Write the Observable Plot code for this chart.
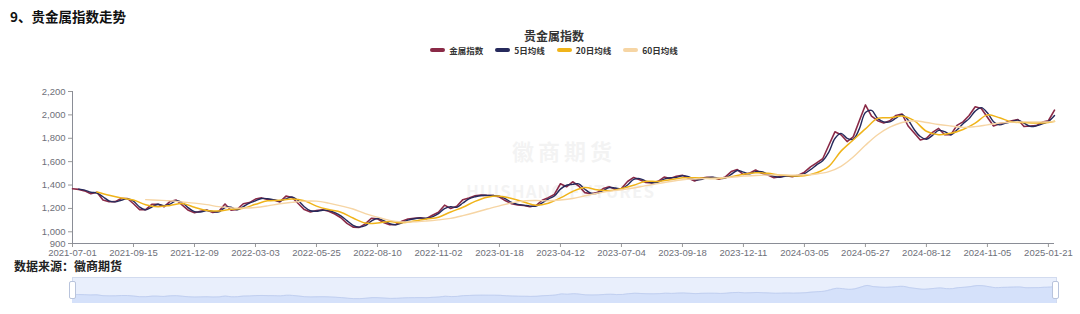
<!DOCTYPE html>
<html>
<head>
<meta charset="utf-8">
<script src="https://cdn.jsdelivr.net/npm/d3@7"></script>
<script src="https://cdn.jsdelivr.net/npm/@observablehq/plot@0.6"></script>
<style>
  html, body { margin: 0; padding: 0; background: #fff; }
  #root { position: relative; width: 1080px; height: 314px; overflow: hidden; background: #fff;
          font-family: "Noto Sans CJK SC", "Noto Sans", sans-serif; }
  .abs { position: absolute; white-space: nowrap; }
  #title { left: 10px; top: 6px; font-size: 13.5px; font-weight: 700; color: #111; }
  #ctitle { left: 0; width: 1108px; text-align: center; top: 27px; font-size: 12px; font-weight: 700; color: #333; }
  #legend { left: 0; width: 1108px; top: 44px; display: flex; justify-content: center; gap: 12px; font-size: 8.5px; color: #333; font-weight: 700; }
  #legend .item { display: flex; align-items: center; gap: 4px; }
  #legend .sw { width: 15px; height: 4px; border-radius: 2px; display: inline-block; }
  #source { left: 14px; top: 259px; font-size: 12px; line-height: 14px; font-weight: 700; color: #222; }
  #main { left: 0; top: 60px; }
  #slider { left: 0; top: 277px; }
  .wm { color: #000; opacity: 0.045; font-weight: 700; }
  .handle { position: absolute; width: 5px; height: 16px; background: #fff; border: 1px solid #b9c4dc; border-radius: 2px; }
</style>
</head>
<body>
<div id="root">
  <div id="title" class="abs">9、贵金属指数走势</div>
  <div id="ctitle" class="abs">贵金属指数</div>
  <div id="legend" class="abs"></div>
  <div class="abs wm" style="left:512px;top:134px;font-size:22px;letter-spacing:4px;">徽商期货</div>
  <div class="abs wm" style="left:466px;top:178px;font-size:17px;letter-spacing:1px;">HUISHANG FUTURES</div>
  <div id="main" class="abs"></div>
  <div id="source" class="abs">数据来源：徽商期货</div>
  <div id="slider" class="abs"></div>
</div>
<script>
// ---- tick labels (category axis, one label every 10 samples) ----
const dateLabels = ["2021-07-01","2021-09-15","2021-12-09","2022-03-03","2022-05-25","2022-08-10",
  "2022-11-02","2023-01-18","2023-04-12","2023-07-04","2023-09-18","2023-12-11","2024-03-05",
  "2024-05-27","2024-08-12","2024-11-05","2025-01-21"];
const yTicks = [900, 1000, 1200, 1400, 1600, 1800, 2000, 2200];

// ---- series names & colours ----
const seriesNames = ["金属指数", "5日均线", "20日均线", "60日均线"];
const seriesColors = ["#8a2a47", "#262a5c", "#f0b41a", "#f6d5a4"];

// ---- 金属指数 (sampled, one value per sample from 2021-07-01) ----
const indexValues = [1368,1363,1350,1326,1338,1272,1257,1258,1285,1285,
  1240,1190,1190,1235,1235,1214,1260,1272,1228,1184,
  1163,1176,1186,1165,1176,1238,1184,1192,1240,1250,
  1280,1290,1276,1272,1256,1305,1293,1242,1190,1170,
  1182,1188,1176,1152,1120,1072,1040,1038,1068,1116,
  1112,1080,1060,1062,1090,1110,1115,1120,1112,1142,
  1167,1228,1200,1218,1275,1290,1308,1314,1310,1310,
  1298,1265,1240,1230,1225,1215,1225,1270,1292,1320,
  1411,1385,1428,1392,1335,1325,1335,1370,1385,1365,
  1370,1430,1465,1445,1422,1418,1432,1468,1455,1475,
  1484,1458,1435,1458,1467,1465,1450,1468,1515,1532,
  1490,1502,1528,1500,1485,1462,1472,1480,1472,1484,
  1510,1555,1590,1625,1740,1855,1830,1772,1812,1950,
  2085,1990,1950,1930,1950,1995,2008,1905,1845,1785,
  1800,1850,1884,1830,1830,1910,1940,1995,2070,2055,
  1980,1905,1925,1935,1950,1960,1900,1905,1908,1938,
  1950,2040];

// ---- 5日均线 (starts at sample 1) ----
const ma5Start = 1;
const ma5Values = [1365,1356,1338,1332,1300,1264,1256,1270,1284,
  1262,1212,1188,1212,1236,1224,1236,1266,1250,1205,
  1172,1170,1182,1175,1170,1208,1210,1188,1215,1245,
  1265,1285,1283,1274,1264,1282,1298,1268,1215,1180,
  1176,1185,1182,1164,1136,1096,1056,1040,1052,1092,
  1114,1096,1070,1060,1076,1100,1112,1118,1116,1128,
  1155,1198,1214,1210,1246,1282,1300,1311,1312,1310,
  1304,1282,1252,1235,1228,1220,1220,1248,1280,1306,
  1365,1398,1406,1410,1364,1330,1330,1352,1378,1375,
  1368,1400,1448,1455,1434,1420,1425,1450,1462,1465,
  1480,1471,1446,1446,1462,1466,1458,1459,1492,1524,
  1511,1496,1515,1514,1492,1474,1467,1476,1476,1478,
  1497,1532,1572,1608,1682,1798,1842,1800,1792,1880,
  2020,2038,1970,1940,1940,1972,2002,1956,1875,1815,
  1792,1825,1867,1857,1830,1870,1925,1968,2032,2062,
  2018,1942,1915,1930,1942,1955,1930,1902,1906,1923,
  1944,1995];

// ---- 20日均线 (every 2nd sample from sample 4) ----
const ma20Start = 4;
const ma20Values = [1340,1312,1290,1272,1232,1215,1225,1242,1210,1182,
  1178,1192,1202,1235,1265,1270,1280,1265,1220,1190,
  1168,1118,1075,1075,1088,1077,1092,1110,1125,1170,
  1210,1260,1295,1305,1285,1255,1228,1245,1290,1345,
  1378,1360,1352,1370,1398,1432,1430,1445,1462,1462,
  1458,1456,1470,1492,1505,1500,1485,1478,1480,1505,
  1560,1690,1785,1880,1970,1975,1990,1950,1860,1830,
  1842,1875,1930,2000,1975,1940,1935,1930,1935];

// ---- 60日均线 (every 2nd sample from sample 12) ----
const ma60Start = 12;
const ma60Values = [1275,1270,1265,1255,1245,1232,1215,1205,1203,1208,
  1222,1240,1252,1262,1262,1245,1222,1195,1155,1125,
  1098,1085,1085,1092,1102,1115,1138,1165,1195,1222,
  1248,1265,1268,1265,1272,1285,1308,1330,1348,1360,
  1375,1395,1412,1430,1445,1452,1456,1460,1466,1476,
  1482,1486,1487,1485,1488,1495,1515,1560,1640,1740,
  1830,1895,1935,1950,1935,1918,1905,1893,1900,1915,
  1930,1938,1940,1940,1940];

// ---- build tables ----
const lastIdx = indexValues.length - 1;
const tIndex = indexValues.map((v, i) => ({i, v}));
const tMa5 = ma5Values.map((v, k) => ({i: ma5Start + k, v}));
const tMa20 = ma20Values.map((v, k) => ({i: ma20Start + 2 * k, v}));
tMa20.push({i: lastIdx, v: 1945});
const tMa60 = ma60Values.map((v, k) => ({i: ma60Start + 2 * k, v}));
tMa60.push({i: lastIdx, v: 1942});
const tickIdx = dateLabels.map((d, k) => k * 10);

// ---- legend ----
const legend = document.getElementById("legend");
seriesNames.forEach((n, k) => {
  const it = document.createElement("div");
  it.className = "item";
  it.innerHTML = `<span class="sw" style="background:${seriesColors[k]}"></span><span>${n}</span>`;
  legend.appendChild(it);
});

const axisColor = "#6e7079";
const main = Plot.plot({
  width: 1080, height: 205,
  marginLeft: 72, marginRight: 26, marginTop: 31, marginBottom: 22,
  style: {background: "transparent", fontFamily: "'Liberation Sans', Arial, sans-serif", color: axisColor},
  x: {domain: [0, lastIdx], label: null},
  y: {domain: [900, 2200], label: null},
  marks: [
    Plot.axisY({ticks: yTicks, tickFormat: d3.format(","), tickSize: 4, tickPadding: 3, fontSize: 9.5, stroke: "#999", fill: axisColor}),
    Plot.axisX({ticks: tickIdx, tickFormat: i => dateLabels[i / 10], tickSize: 4, tickPadding: 2, fontSize: 9.5, stroke: "#999", fill: axisColor}),
    Plot.ruleX([0], {stroke: "#8a8d96", strokeWidth: 1}),
    Plot.ruleY([900], {stroke: "#8a8d96", strokeWidth: 1}),
    Plot.line(tIndex, {x: "i", y: "v", stroke: seriesColors[0], strokeWidth: 1.6, curve: "linear"}),
    Plot.line(tMa5, {x: "i", y: "v", stroke: seriesColors[1], strokeWidth: 1.4, curve: "catmull-rom"}),
    Plot.line(tMa20, {x: "i", y: "v", stroke: seriesColors[2], strokeWidth: 1.5, curve: "catmull-rom"}),
    Plot.line(tMa60, {x: "i", y: "v", stroke: seriesColors[3], strokeWidth: 1.4, curve: "catmull-rom"})
  ]
});
document.getElementById("main").appendChild(main);

// ---- data-zoom slider with data shadow ----
const slider = Plot.plot({
  width: 1080, height: 26,
  marginLeft: 72, marginRight: 24, marginTop: 0, marginBottom: 0,
  style: {background: "transparent"},
  x: {domain: [0, lastIdx], axis: null},
  y: {domain: [655, 2710], axis: null},
  marks: [
    Plot.frame({fill: "#e9effc", stroke: "#d2dbef"}),
    Plot.areaY(tIndex, {x: "i", y1: 655, y2: "v", fill: "#d5e1fa", curve: "catmull-rom"}),
    Plot.line(tIndex, {x: "i", y: "v", stroke: "#c2d0f0", strokeWidth: 1, curve: "catmull-rom"})
  ]
});
document.getElementById("slider").appendChild(slider);
const root = document.getElementById("root");
[69, 1052].forEach(x => {
  const h = document.createElement("div");
  h.className = "handle";
  h.style.left = x + "px"; h.style.top = "281px";
  root.appendChild(h);
});
</script>
</body>
</html>
